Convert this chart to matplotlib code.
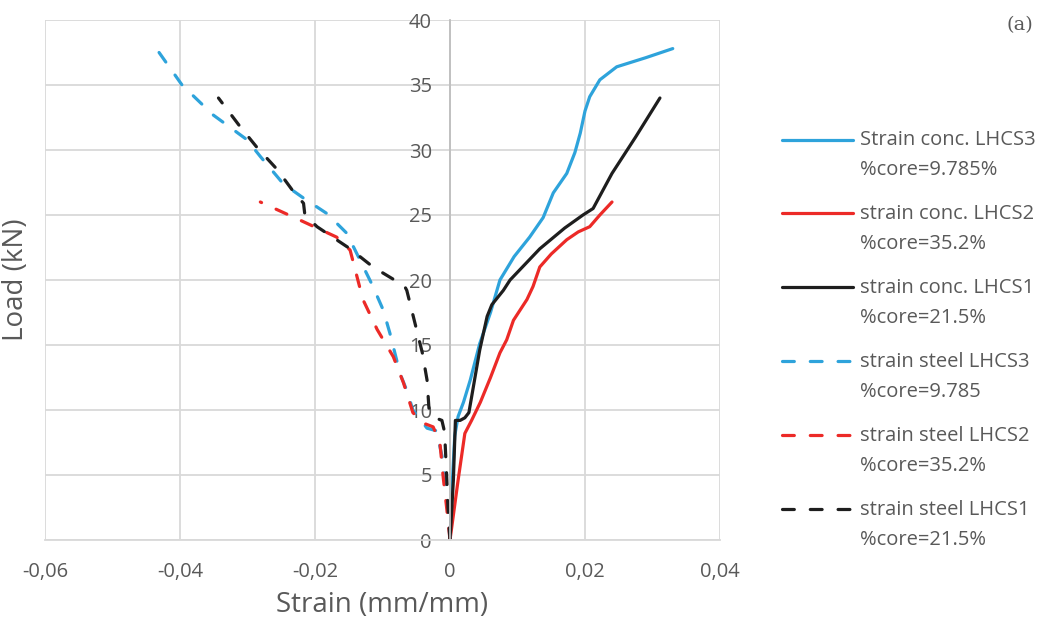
import matplotlib
matplotlib.use("Agg")
from matplotlib import pyplot as plt
from matplotlib.ticker import FixedLocator, FuncFormatter
from matplotlib.legend_handler import HandlerLine2D

# concrete strain (positive side)
conc3_x = [0, 0.0003, 0.0007, 0.0012, 0.002, 0.003, 0.0044, 0.006, 0.0074, 0.0095, 0.0118,
           0.0138, 0.0153, 0.0173, 0.0185, 0.0193, 0.0200, 0.0207, 0.0222, 0.0247, 0.029, 0.033]
conc3_y = [0, 4, 8, 9.5, 10.6, 12.3, 15.1, 17.5, 20, 21.8, 23.3,
           24.8, 26.7, 28.2, 29.8, 31.3, 33.0, 34.1, 35.4, 36.4, 37.1, 37.8]

conc2_x = [0, 0.0006, 0.0012, 0.0022, 0.0032, 0.0045, 0.006, 0.0074, 0.0084, 0.0094, 0.0114,
           0.0123, 0.0133, 0.0150, 0.0173, 0.0190, 0.0207, 0.0222, 0.024]
conc2_y = [0, 2.3, 4.6, 8.2, 9.2, 10.6, 12.5, 14.4, 15.4, 16.9, 18.5,
           19.5, 21.0, 22.0, 23.1, 23.7, 24.1, 25.0, 26.0]

conc1_x = [0, 0.0005, 0.0008, 0.0015, 0.0022, 0.0028, 0.0037, 0.0044, 0.0055, 0.0062, 0.0079,
           0.0089, 0.0133, 0.0170, 0.0197, 0.0212, 0.0240, 0.0275, 0.0311]
conc1_y = [0, 4.6, 9.2, 9.2, 9.4, 9.8, 12.5, 14.6, 17.2, 18.1, 19.2,
           20.0, 22.4, 24.0, 25.0, 25.5, 28.2, 31.0, 34.0]

# steel strain (negative side)
steel3_x = [0, -0.0007, -0.0012, -0.0015, -0.002, -0.0034, -0.0055, -0.0064, -0.0074, -0.0089, -0.0099,
            -0.0115, -0.0133, -0.0153, -0.0182, -0.0217, -0.0247, -0.0281, -0.0301, -0.0351, -0.0397, -0.0431]
steel3_y = [0, 4.6, 6.5, 7.2, 8.4, 8.6, 10.0, 11.5, 12.8, 15.9, 17.7,
            19.6, 21.5, 23.6, 25.1, 26.3, 27.4, 29.5, 30.8, 32.7, 35.0, 37.5]

steel2_x = [0, -0.0005, -0.001, -0.0015, -0.0025, -0.004, -0.0055, -0.0069, -0.0084, -0.0108,
            -0.0129, -0.0143, -0.0148, -0.0168, -0.0222, -0.0281]
steel2_y = [0, 2.5, 4.8, 7.5, 8.7, 9.0, 9.8, 12.1, 14.1, 16.2,
            18.5, 21.3, 22.3, 23.3, 24.6, 26.0]

steel1_x = [0, -0.0003, -0.0005, -0.0008, -0.0012, -0.0022, -0.0031, -0.0034, -0.0041, -0.0052, -0.0064,
            -0.0068, -0.0079, -0.0114, -0.0148, -0.0197, -0.0215, -0.0217, -0.0232, -0.0256, -0.0286, -0.0311, -0.0343]
steel1_y = [0, 2.5, 5.0, 8.3, 9.2, 9.4, 10.0, 12.3, 14.4, 16.7, 19.2,
            19.6, 19.9, 21.0, 22.4, 24.1, 25.0, 25.9, 26.8, 28.5, 30.2, 31.8, 34.0]

labels = ["Strain conc. LHCS3\n%core=9.785%", "strain conc. LHCS2\n%core=35.2%",
          "strain conc. LHCS1\n%core=21.5%", "strain steel LHCS3\n%core=9.785",
          "strain steel LHCS2\n%core=35.2%", "strain steel LHCS1\n%core=21.5%"]

x_ticks = [-0.06, -0.04, -0.02, 0, 0.02, 0.04]
y_ticks = [0, 5, 10, 15, 20, 25, 30, 35, 40]

blue = "#2EA3DB"
red = "#EC2A27"
black = "#1E1E1E"
txt = "#595959"


class TopLine(HandlerLine2D):
    # put the legend line next to the first text line
    def create_artists(self, legend, orig_handle, xdescent, ydescent, width, height, fontsize, trans):
        shift = 0.8 * fontsize
        return super().create_artists(legend, orig_handle, xdescent, ydescent - 2 * shift,
                                      width, height, fontsize, trans)


plt.rcParams["font.family"] = ["Open Sans", "DejaVu Sans"]

fig = plt.figure(figsize=(10.4, 6.24), dpi=100)
ax = fig.add_axes([45 / 1040, 84 / 624, 675 / 1040, 520 / 624])

lw = 2.3
dash = (0, (3.7, 5.0))
ax.plot(conc3_x, conc3_y, color=blue, lw=lw, label=labels[0], solid_capstyle="round")
ax.plot(conc2_x, conc2_y, color=red, lw=lw, label=labels[1], solid_capstyle="round")
ax.plot(conc1_x, conc1_y, color=black, lw=lw, label=labels[2], solid_capstyle="round")
ax.plot(steel3_x, steel3_y, color=blue, lw=lw, ls=dash, label=labels[3], dash_capstyle="round")
ax.plot(steel2_x, steel2_y, color=red, lw=lw, ls=dash, label=labels[4], dash_capstyle="round")
ax.plot(steel1_x, steel1_y, color=black, lw=lw, ls=dash, label=labels[5], dash_capstyle="round")

ax.set_xlim(-0.06, 0.04)
ax.set_ylim(0, 40)
ax.xaxis.set_major_locator(FixedLocator(x_ticks))
ax.yaxis.set_major_locator(FixedLocator(y_ticks))
ax.xaxis.set_major_formatter(FuncFormatter(lambda v, p: "0" if abs(v) < 1e-9 else f"{v:.2f}".replace(".", ",")))
ax.yaxis.set_major_formatter(FuncFormatter(lambda v, p: f"{v:.0f}"))

ax.grid(True, color="#D9D9D9", lw=1.3)
ax.set_axisbelow(True)
ax.yaxis.set_zorder(0.5)
for s in ["top", "right"]:
    ax.spines[s].set_visible(False)
ax.spines["left"].set_position(("data", 0))
ax.spines["left"].set_color("#BFBFBF")
ax.spines["left"].set_linewidth(1.3)
ax.spines["bottom"].set_color("#D9D9D9")
ax.spines["bottom"].set_linewidth(1.3)
ax.tick_params(axis="both", length=0, labelsize=14.5, labelcolor=txt)
ax.tick_params(axis="x", pad=16)
ax.tick_params(axis="y", pad=13)

ax.set_xlabel("Strain (mm/mm)", fontsize=20, color=txt, labelpad=6)
ax.set_ylabel("Load (kN)", fontsize=20, color=txt)
ax.yaxis.set_label_coords((30 - 45) / 675, 0.5)

leg = fig.legend(loc="center left", bbox_to_anchor=(764 / 1040, 1 - 340 / 624), frameon=False,
                 fontsize=14.5, handlelength=3.5, handletextpad=0.35, labelspacing=1.2,
                 handler_map={matplotlib.lines.Line2D: TopLine()})
for t in leg.get_texts():
    t.set_color(txt)
    t.set_linespacing(1.65)

fig.text(1020 / 1040, 1 - 25 / 624, "(a)", fontsize=14, color=txt, family="DejaVu Serif",
         ha="center", va="center")

fig.savefig("out.png", dpi=100)
